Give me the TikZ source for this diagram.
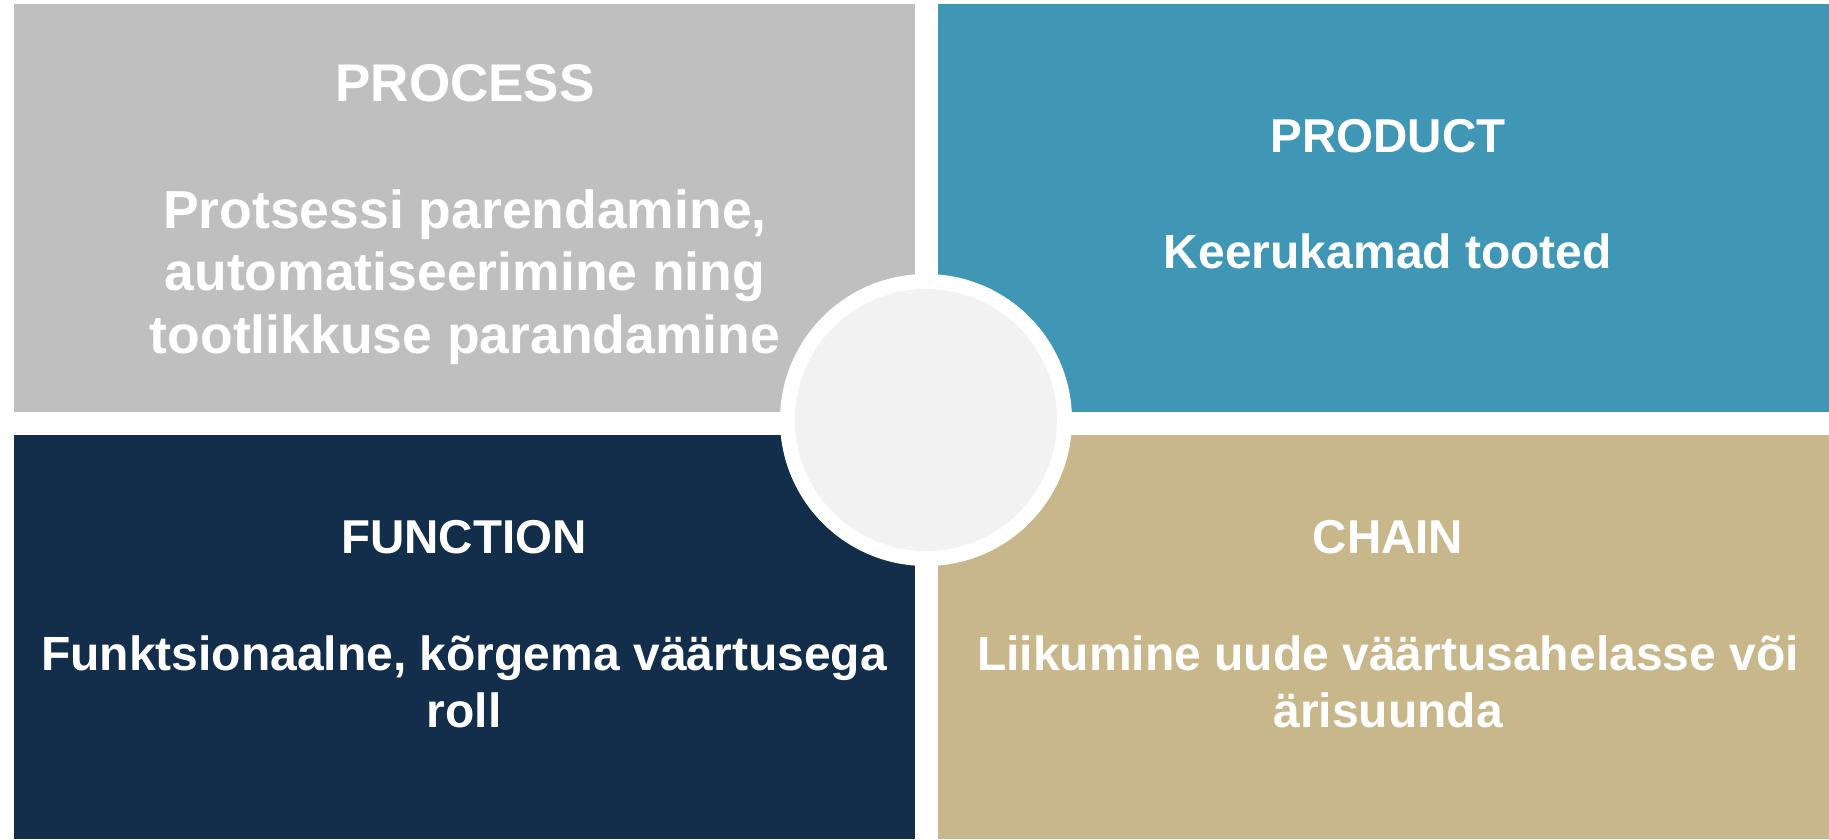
\documentclass[tikz,border=0pt]{standalone}
\usepackage{fontspec}
\setmainfont{Liberation Sans}
\definecolor{procgray}{HTML}{BFBFBF}
\definecolor{prodblue}{HTML}{4096B5}
\definecolor{funcnavy}{HTML}{132E4B}
\definecolor{chaintan}{HTML}{C7B78B}
\definecolor{hubgray}{HTML}{F2F2F2}

\begin{document}
\begin{tikzpicture}[x=1pt,y=-1pt,
		title/.style={anchor=base,inner sep=0pt,text=white,font=\bfseries\fontsize{47.5}{57}\selectfont},
		body/.style={anchor=base,inner sep=0pt,text=white,align=center,font=\bfseries\fontsize{48}{57}\selectfont}]
		\fill[white] (0, 0) rectangle (1829, 839);
		\useasboundingbox (0, 0) rectangle (1829, 839);

		\fill[procgray] (14, 4) rectangle (915, 412);
		\fill[prodblue] (938, 4) rectangle (1829, 412);
		\fill[funcnavy] (14, 435) rectangle (915, 839);
		\fill[chaintan] (938, 435) rectangle (1829, 839);

		\fill[white] (926, 420) circle (146);
		\fill[hubgray] (926, 420) circle (131);

		\node[title,font=\bfseries\fontsize{53}{62.5}\selectfont] (process) at (465, 101) {PROCESS};
		\node[body,font=\bfseries\fontsize{53.5}{62.5}\selectfont] (processtxt) at (465, 353) {Protsessi parendamine,\\automatiseerimine ning\\tootlikkuse parandamine};
		\node[title] (product) at (1388, 152) {PRODUCT};
		\node[body] (producttxt) at (1388, 268) {Keerukamad tooted};
		\node[title] (function) at (464, 553) {FUNCTION};
		\node[body] (functiontxt) at (464, 727) {Funktsionaalne, kõrgema väärtusega\\roll};
		\node[title] (chain) at (1388, 553) {CHAIN};
		\node[body] (chaintxt) at (1388, 727) {Liikumine uude väärtusahelasse või\\ärisuunda};
	\end{tikzpicture}
\end{document}
